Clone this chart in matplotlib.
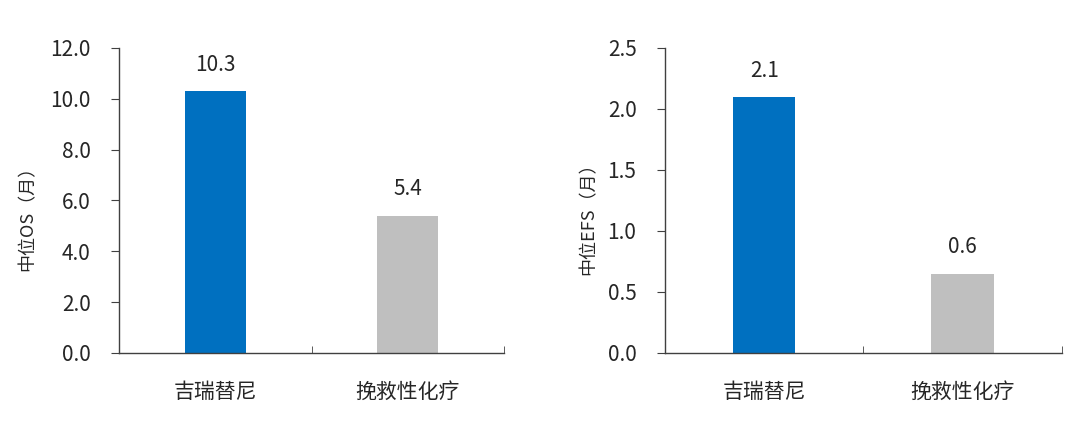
import matplotlib
matplotlib.use('Agg')
import matplotlib.pyplot as plt
from matplotlib.ticker import MultipleLocator, FixedLocator

plt.rcParams['font.family'] = ['Noto Sans CJK SC', 'DejaVu Sans']
plt.rcParams['font.weight'] = 'light'

# -------------------- 数据 --------------------
categories = ['吉瑞替尼', '挽救性化疗']
os_values = [10.3, 5.4]
os_labels = ['10.3', '5.4']
efs_values = [2.1, 0.65]
efs_labels = ['2.1', '0.6']

bar_colors = ['#0070C0', '#BFBFBF']
axis_color = '#404040'
text_color = '#262626'


def draw_panel(ax, values, labels, ylabel, ymax, ystep, label_x):
    x = list(range(len(categories)))
    ax.bar(x, values, width=0.315, color=bar_colors, zorder=2)
    for xi, v, lab in zip(x, values, labels):
        ax.annotate(lab, (xi, v), xytext=(0, 11), textcoords='offset points',
                    ha='center', va='bottom', fontsize=15, color=text_color)
    ax.set_xlim(-0.5, len(categories) - 0.5)
    ax.set_ylim(0, ymax)
    ax.yaxis.set_major_locator(MultipleLocator(ystep))
    ax.yaxis.set_major_formatter('{x:.1f}')
    ax.set_xticks(x)
    ax.set_xticklabels(categories)
    ax.xaxis.set_minor_locator(FixedLocator([-0.5, 0.5, 1.5]))
    ax.tick_params(axis='x', which='major', length=0, pad=20, labelsize=15, labelcolor=text_color)
    ax.tick_params(axis='x', which='minor', direction='in', length=5, color=axis_color)
    ax.tick_params(axis='y', direction='out', length=5.5, color=axis_color, labelsize=15,
                   labelcolor=text_color, pad=15)
    for s in ['top', 'right']:
        ax.spines[s].set_visible(False)
    for s in ['left', 'bottom']:
        ax.spines[s].set_color(axis_color)
        ax.spines[s].set_linewidth(1.0)
    ax.set_ylabel(ylabel, fontsize=13, color=text_color)
    ax.yaxis.set_label_coords(label_x, 0.455)


fig = plt.figure(figsize=(10.8, 4.24), dpi=100)
ax1 = fig.add_axes([0.1102, 0.1675, 0.3565, 0.7193])
ax2 = fig.add_axes([0.6157, 0.1675, 0.3676, 0.7193])

draw_panel(ax1, os_values, os_labels, '中位OS（月）', 12, 2, -0.213)
draw_panel(ax2, efs_values, efs_labels, '中位EFS（月）', 2.5, 0.5, -0.171)

fig.savefig('out.png', dpi=100)
